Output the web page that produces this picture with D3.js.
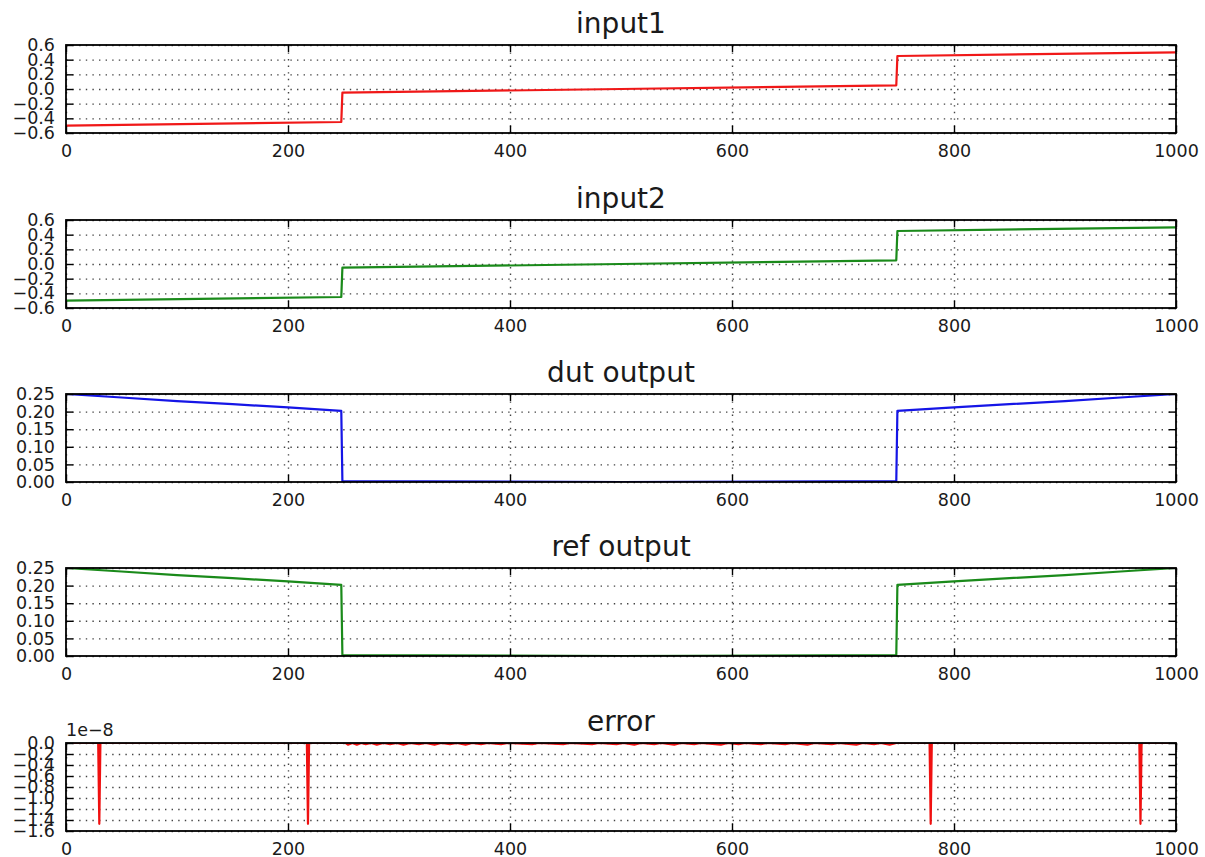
<!DOCTYPE html>
<html>
<head>
<meta charset="utf-8">
<script src="https://cdnjs.cloudflare.com/ajax/libs/d3/7.8.5/d3.min.js"></script>
<style>
  body { margin: 0; background: #fff; }
  text { font-family: "DejaVu Sans", sans-serif; fill: #1a1a1a; }
  .grid line { stroke: #444; stroke-width: 1.4; stroke-dasharray: 1.4,5.2; }
  .grid path { display: none; }
  .axis path { display: none; }
  .axis line { stroke: #000; stroke-width: 1.4; }
  .axis text { font-size: 17.5px; }
</style>
</head>
<body>
<svg id="chart" width="1205" height="857"></svg>
<script>

var xTicks = [0, 200, 400, 600, 800, 1000];
var inputTicks = [-0.6, -0.4, -0.2, 0.0, 0.2, 0.4, 0.6];
var outputTicks = [0.00, 0.05, 0.10, 0.15, 0.20, 0.25];
var errorTicks = [0, -0.2e-8, -0.4e-8, -0.6e-8, -0.8e-8, -1.0e-8, -1.2e-8, -1.4e-8, -1.6e-8];

// [sample, value]
var input1 = [[0, -0.5], [248, -0.45], [249, -0.05], [500, 0.0], [748, 0.05], [749, 0.45], [1000, 0.5]];
var input2 = [[0, -0.5], [248, -0.45], [249, -0.05], [500, 0.0], [748, 0.05], [749, 0.45], [1000, 0.5]];

var dutOutput = [[0, 0.25], [50, 0.240], [100, 0.230], [150, 0.221], [200, 0.212], [248, 0.202],
  [249, 0.0025], [500, 0.0], [748, 0.0025], [749, 0.202], [800, 0.212], [850, 0.221],
  [900, 0.230], [950, 0.240], [1000, 0.25]];
var refOutput = [[0, 0.25], [50, 0.240], [100, 0.230], [150, 0.221], [200, 0.212], [248, 0.202],
  [249, 0.0025], [500, 0.0], [748, 0.0025], [749, 0.202], [800, 0.212], [850, 0.221],
  [900, 0.230], [950, 0.240], [1000, 0.25]];

var errorVals = [[0, 0], [29, 0], [30, -1.47e-8], [31, 0], [217, 0], [218, -1.47e-8], [219, 0],
  [252, 0], [254, -0.03e-8], [258, 0], [262, -0.03e-8], [266, 0], [270, -0.02e-8], [275, 0],
  [280, -0.03e-8], [286, 0], [292, -0.02e-8], [298, 0], [304, -0.03e-8], [310, 0],
  [318, -0.02e-8], [324, 0], [332, -0.03e-8], [338, 0], [346, -0.02e-8], [352, 0],
  [360, -0.03e-8], [366, 0], [374, -0.02e-8], [380, 0], [392, -0.02e-8], [398, 0],
  [420, -0.02e-8], [426, 0], [448, -0.02e-8], [454, 0], [474, -0.02e-8], [480, 0],
  [496, -0.02e-8], [502, 0], [512, -0.03e-8], [518, 0], [530, -0.02e-8], [536, 0],
  [548, -0.03e-8], [554, 0], [566, -0.02e-8], [572, 0], [590, -0.03e-8], [596, 0],
  [606, -0.02e-8], [612, 0], [626, -0.02e-8], [632, 0], [648, -0.02e-8], [654, 0],
  [668, -0.03e-8], [674, 0], [690, -0.02e-8], [696, 0], [712, -0.03e-8], [718, 0],
  [728, -0.02e-8], [734, 0], [742, -0.03e-8], [748, 0],
  [778, 0], [779, -1.47e-8], [780, 0], [967, 0], [968, -1.47e-8], [969, 0], [1000, 0]];

var svg = d3.select("#chart");
var left = 66, right = 1176, ph = 88;
var width = right - left;

function fmtNum(digits) {
  return function(d) { return d3.format("." + digits + "f")(d).replace("-", "\u2212"); };
}

function drawPanel(id, top, title, data, color, yDomain, yTicks, fmt) {
  var x = d3.scaleLinear().domain([0, 1000]).range([0, width]);
  var y = d3.scaleLinear().domain(yDomain).range([ph, 0]);

  var g = svg.append("g").attr("transform", "translate(" + left + "," + top + ")");

  g.append("defs").append("clipPath").attr("id", "clip" + id)
    .append("rect").attr("width", width).attr("height", ph);

  // dotted grid
  g.append("g").attr("class", "grid")
    .call(d3.axisLeft(y).tickValues(yTicks).tickSize(-width).tickFormat(""));
  g.append("g").attr("class", "grid")
    .attr("transform", "translate(0," + ph + ")")
    .call(d3.axisBottom(x).tickValues(xTicks).tickSize(-ph).tickFormat(""));

  var line = d3.line()
    .x(function(d) { return x(d[0]); })
    .y(function(d) { return y(d[1]); });

  g.append("path")
    .datum(data)
    .attr("clip-path", "url(#clip" + id + ")")
    .attr("fill", "none")
    .attr("stroke", color)
    .attr("stroke-width", 2.2)
    .attr("stroke-linejoin", "round")
    .attr("d", line);

  // ticks point inwards on all four sides
  g.append("g").attr("class", "axis")
    .attr("transform", "translate(0," + ph + ")")
    .call(d3.axisBottom(x).tickValues(xTicks).tickSizeInner(-7).tickSizeOuter(0).tickPadding(12)
      .tickFormat(d3.format("d")));
  g.append("g").attr("class", "axis")
    .call(d3.axisTop(x).tickValues(xTicks).tickSizeInner(-7).tickSizeOuter(0).tickFormat(""));
  g.append("g").attr("class", "axis")
    .call(d3.axisLeft(y).tickValues(yTicks).tickSizeInner(-7).tickSizeOuter(0).tickPadding(11)
      .tickFormat(fmt));
  g.append("g").attr("class", "axis")
    .attr("transform", "translate(" + width + ",0)")
    .call(d3.axisRight(y).tickValues(yTicks).tickSizeInner(-7).tickSizeOuter(0).tickFormat(""));

  g.append("rect")
    .attr("width", width).attr("height", ph)
    .attr("fill", "none").attr("stroke", "#000").attr("stroke-width", 1.8);

  g.append("text")
    .attr("x", width / 2).attr("y", -12)
    .attr("text-anchor", "middle")
    .style("font-size", "28px")
    .text(title);

  return g;
}

drawPanel(1, 45, "input1", input1, "#f01818", [-0.6, 0.6], inputTicks, fmtNum(1));
drawPanel(2, 220, "input2", input2, "#1a8a1a", [-0.6, 0.6], inputTicks, fmtNum(1));
drawPanel(3, 394, "dut output", dutOutput, "#1515e6", [0, 0.25], outputTicks, fmtNum(2));
drawPanel(4, 568, "ref output", refOutput, "#1a8a1a", [0, 0.25], outputTicks, fmtNum(2));
var eg = drawPanel(5, 743, "error", errorVals, "#f01010", [-1.6e-8, 0], errorTicks,
  function(d) { return fmtNum(1)(d / 1e-8 === 0 ? 0 : d / 1e-8); });

eg.append("text")
  .attr("x", 0).attr("y", -7)
  .style("font-size", "17.5px")
  .text("1e\u22128");

</script>
</body>
</html>
